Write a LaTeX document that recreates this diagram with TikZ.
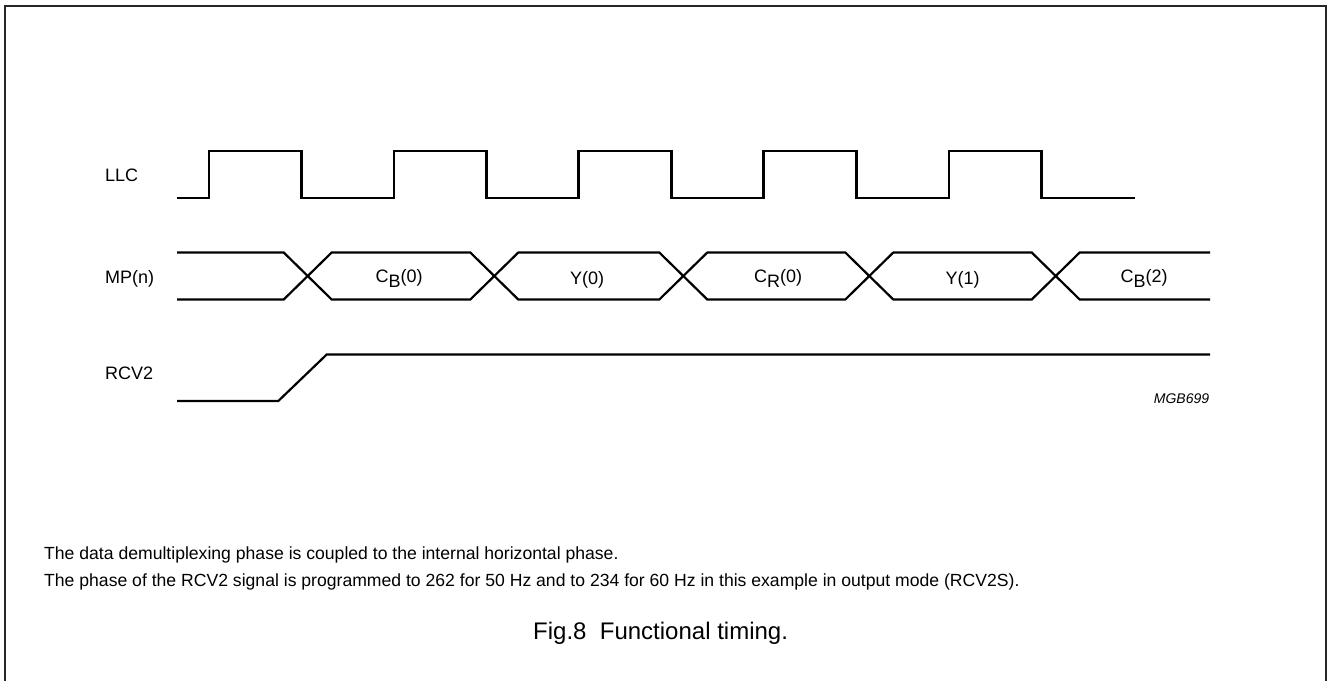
\documentclass[tikz,border=0pt]{standalone}
\usepackage{fontspec}
\setmainfont{Liberation Sans}
\begin{document}
\begin{tikzpicture}[x=1pt,y=-1pt,
  wave/.style={line width=2.2pt, line join=miter},
  lbl/.style={inner sep=0pt, font=\fontsize{18}{21}\selectfont},
  note/.style={inner sep=0pt, font=\fontsize{17.6}{21}\selectfont}]
\useasboundingbox (0,0) rectangle (1327,680);
\draw[line width=2pt, draw=black!85] (5,684) -- (5,6) -- (1325.5,6) -- (1325.5,684);
% signal names
\node[lbl, anchor=base west] (llc) at (105,181.5) {LLC};
\node[lbl, anchor=base west] (mp) at (105,283) {MP(n)};
\node[lbl, anchor=base west] (rcv) at (105,379) {RCV2};
% LLC clock
\draw[wave] (177,198) -- (209,198) -- (209,151) -- (301.5,151) -- (301.5,198)
  -- (394,198) -- (394,151) -- (486.5,151) -- (486.5,198)
  -- (578.5,198) -- (578.5,151) -- (671.5,151) -- (671.5,198)
  -- (763.5,198) -- (763.5,151) -- (856.5,151) -- (856.5,198)
  -- (949,198) -- (949,151) -- (1041.5,151) -- (1041.5,198) -- (1135,198);
% MP(n) bus
\draw[wave] (177,252.5) -- (283.7,252.5) -- (331.7,299.5) -- (470.3,299.5) -- (518.3,252.5)
  -- (659.3,252.5) -- (707.3,299.5) -- (845.3,299.5) -- (893.3,252.5)
  -- (1031.7,252.5) -- (1079.7,299.5) -- (1210,299.5);
\draw[wave] (177,299.5) -- (283.7,299.5) -- (331.7,252.5) -- (470.3,252.5) -- (518.3,299.5)
  -- (659.3,299.5) -- (707.3,252.5) -- (845.3,252.5) -- (893.3,299.5)
  -- (1031.7,299.5) -- (1079.7,252.5) -- (1210,252.5);
\node[lbl, anchor=base] (d0) at (399,282) {C\raisebox{-5pt}{B}(0)};
\node[lbl, anchor=base] (d1) at (587,284) {Y(0)};
\node[lbl, anchor=base] (d2) at (778,282) {C\raisebox{-5pt}{R}(0)};
\node[lbl, anchor=base] (d3) at (962.5,284) {Y(1)};
\node[lbl, anchor=base] (d4) at (1144,282) {C\raisebox{-5pt}{B}(2)};
% RCV2
\draw[wave] (177,401) -- (278.3,401) -- (326.7,354.5) -- (1210,354.5);
\node[inner sep=0pt, anchor=base, font=\fontsize{14}{16}\selectfont\itshape] (mgb) at (1181.5,403) {MGB699};
% notes
\node[note, anchor=base west] (note1) at (44,559.5) {The data demultiplexing phase is coupled to the internal horizontal phase.};
\node[note, anchor=base west] (note2) at (44,586.5) {The phase of the RCV2 signal is programmed to 262 for 50 Hz and to 234 for 60 Hz in this example in output mode (RCV2S).};
\node[inner sep=0pt, anchor=base west, font=\fontsize{24}{28}\selectfont] (cap) at (533,639) {Fig.8\ \ Functional timing.};
\end{tikzpicture}
\end{document}
